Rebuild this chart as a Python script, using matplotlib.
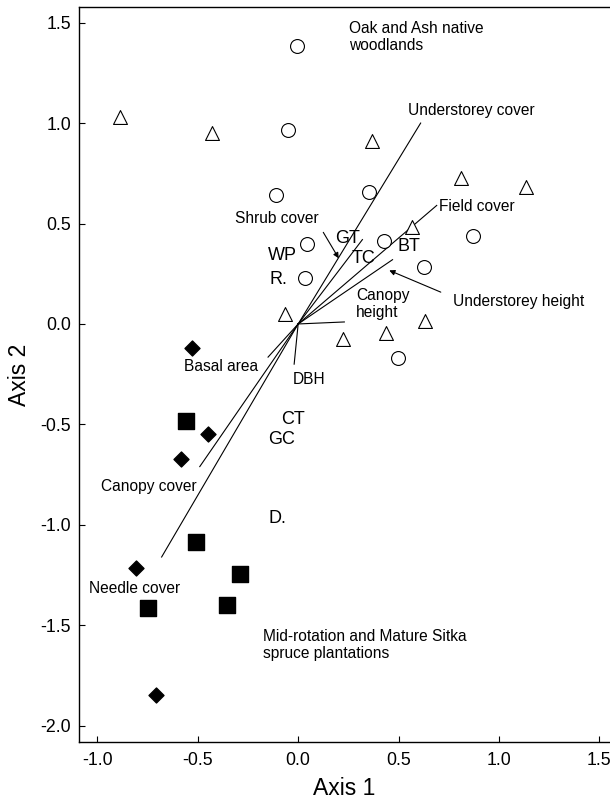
import numpy as np
from matplotlib import pyplot as plt

plt.rcParams['font.family'] = ['Liberation Sans', 'DejaVu Sans']
plt.rcParams['axes.unicode_minus'] = False

# site scores, by forest type
circle_x = [-0.007, -0.049, -0.111, 0.353, 0.044, 0.428, 0.871, 0.034, 0.628, 0.498]
circle_y = [1.384, 0.966, 0.642, 0.656, 0.398, 0.413, 0.438, 0.229, 0.284, -0.169]
tri_x = [-0.888, -0.430, 0.367, 0.810, 1.133, 0.567, -0.065, 0.224, 0.435, 0.630]
tri_y = [1.030, 0.951, 0.912, 0.725, 0.683, 0.483, 0.050, -0.075, -0.043, 0.017]
diamond_x = [-0.528, -0.448, -0.583, -0.809, -0.708]
diamond_y = [-0.119, -0.547, -0.672, -1.215, -1.846]
square_x = [-0.557, -0.508, -0.289, -0.749, -0.354]
square_y = [-0.483, -1.087, -1.244, -1.415, -1.400]

# environmental vectors (biplot arrows from origin)
var_names = ['Understorey cover', 'Shrub cover', 'Field cover', 'Understorey height',
             'Canopy height', 'DBH', 'Basal area', 'Canopy cover', 'Needle cover']
var_x = [0.61, 0.32, 0.69, 0.47, 0.23, -0.02, -0.15, -0.49, -0.68]
var_y = [1.00, 0.42, 0.59, 0.32, 0.01, -0.20, -0.165, -0.71, -1.16]

# species codes
sp_names = ['GT', 'TC', 'BT', 'WP', 'R.', 'CT', 'GC', 'D.']
sp_x = [0.246, 0.323, 0.552, -0.080, -0.098, -0.025, -0.083, -0.105]
sp_y = [0.423, 0.328, 0.388, 0.343, 0.219, -0.478, -0.577, -0.970]

fig = plt.figure(figsize=(6.1, 7.99), dpi=100)
ax = fig.add_axes([0.130, 0.0713, 0.870, 0.9195])

for vx, vy in zip(var_x, var_y):
  ax.plot([0, vx], [0, vy], color='black', lw=0.8, zorder=2)

ax.scatter(circle_x, circle_y, s=100, marker='o', facecolors='white', edgecolors='black', linewidths=0.8, zorder=3)
ax.scatter(tri_x, tri_y, s=100, marker='^', facecolors='white', edgecolors='black', linewidths=0.8, zorder=3)
ax.scatter(diamond_x, diamond_y, s=58, marker='D', color='black', zorder=3)
ax.scatter(square_x, square_y, s=128, marker='s', color='black', zorder=3)

for name, x, y in zip(sp_names, sp_x, sp_y):
  ax.text(x, y, name, fontsize=13, ha='center', va='center', zorder=4)

# variable labels (left edge, vertical centre)
lab_pos = {'Understorey cover': (0.546, 1.062),
           'Field cover': (0.703, 0.585),
           'Shrub cover': (-0.314, 0.523),
           'Canopy\nheight': (0.288, 0.100),
           'Understorey height': (0.773, 0.111),
           'Basal area': (-0.568, -0.2125),
           'DBH': (-0.029, -0.274),
           'Canopy cover': (-0.983, -0.81),
           'Needle cover': (-1.044, -1.319)}
for txt, (x, y) in lab_pos.items():
  ax.text(x, y, txt, fontsize=11.2, ha='left', va='center', zorder=4)

ax.text(0.253, 1.428, 'Oak and Ash native\nwoodlands', fontsize=11.2, ha='left', va='center')
ax.text(-0.173, -1.598, 'Mid-rotation and Mature Sitka\nspruce plantations', fontsize=11.2, ha='left', va='center')

# pointer arrows
ax.annotate('', xy=(0.209, 0.315), xytext=(0.118, 0.468),
            arrowprops=dict(arrowstyle='-|>', lw=0.8, color='black', mutation_scale=8))
ax.annotate('', xy=(0.441, 0.272), xytext=(0.723, 0.153),
            arrowprops=dict(arrowstyle='-|>', lw=0.8, color='black', mutation_scale=8))

ax.set_xlim(-1.09, 1.553)
ax.set_ylim(-2.081, 1.576)
ax.set_xticks(np.arange(-1.0, 1.51, 0.5))
ax.set_yticks(np.arange(-2.0, 1.51, 0.5))
ax.set_xticklabels(['%.1f' % v for v in np.arange(-1.0, 1.51, 0.5)])
ax.set_yticklabels(['%.1f' % v for v in np.arange(-2.0, 1.51, 0.5)])
ax.tick_params(direction='in', length=4, width=0.8, labelsize=12.8)
ax.tick_params(axis='x', pad=7)
ax.tick_params(axis='y', pad=6)
ax.spines['right'].set_visible(False)
for sp in ['left', 'bottom', 'top']:
  ax.spines[sp].set_linewidth(1.0)

ax.set_xlabel('Axis 1', fontsize=16.5, labelpad=6)
ax.set_ylabel('Axis 2', fontsize=16.5, labelpad=7)

fig.savefig('out.png', dpi=100)
